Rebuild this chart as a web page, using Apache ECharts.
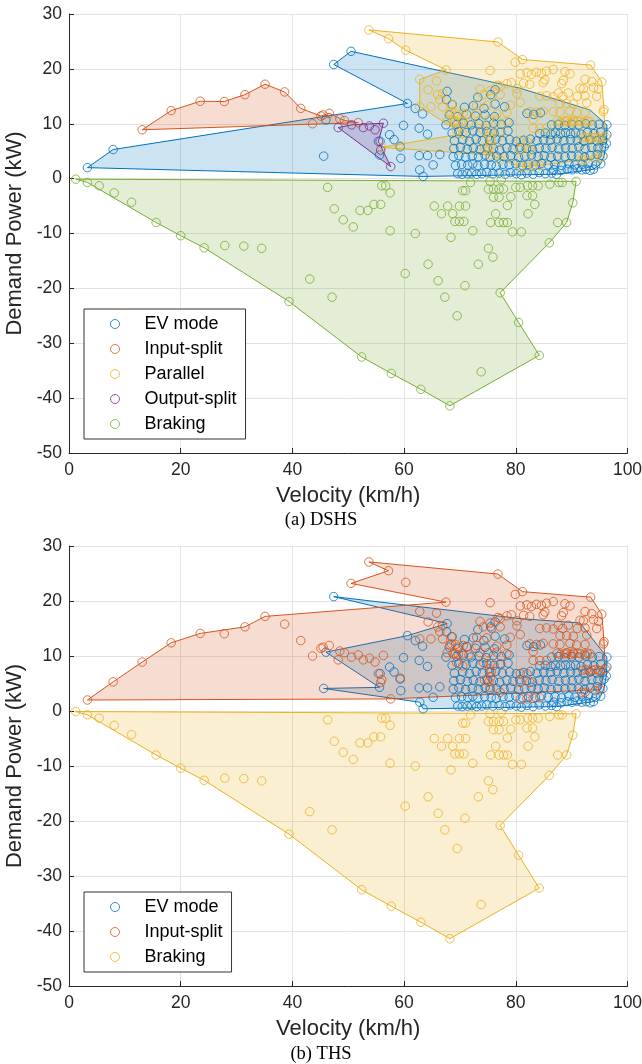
<!DOCTYPE html>
<html>
<head>
<meta charset="utf-8">
<script src="https://cdn.jsdelivr.net/npm/echarts@6/dist/echarts.min.js"></script>
<style>
  html, body { margin: 0; padding: 0; background: #fff; }
  #chart { width: 642px; height: 1064px; }
</style>
</head>
<body>
<div id="chart"></div>
<script>
// ---------- operating points: [velocity km/h, demand power kW] ----------

// EV-mode points common to both powertrains
const evCommon = [
  [45.6,4.1],[46.0,10.7],[47.4,20.8],[55.6,4.3],[55.7,6.8],[57.4,8.0],[58.2,7.1],[59.3,5.8],[59.4,3.7],[59.9,9.7],
  [60.6,13.7],[62.0,12.8],[63.3,11.8],[62.7,9.2],[62.7,4.2],[62.8,1.6],[63.4,0.4],[64.2,8.1],[64.2,4.2],[65.2,2.5],
  [66.4,4.4],[67.5,9.8],[67.6,14.4],[67.7,15.9],
  [69.6,0.9],[70.4,0.8],[71.3,0.9],[72.1,1.0],[73.0,0.8],[73.9,0.9],[74.8,1.1],[75.9,0.9],[77.0,1.0],[78.1,0.8],
  [79.0,1.1],[80.1,0.9],[81.0,0.7],[82.0,1.0],[83.1,0.8],[84.2,1.1],[85.3,0.9],[86.4,1.0],[87.3,0.8],[86.8,1.6],
  [88.1,1.5],[89.2,1.7],[90.1,1.6],[91.0,1.8],[91.8,1.6],[92.6,1.7],[93.3,1.5],[93.9,1.7],
  [69.2,2.4],[70.3,2.6],[71.4,2.5],[72.3,2.7],[73.2,2.4],[74.4,2.6],[75.6,2.5],[76.5,2.3],[77.7,2.6],[78.8,2.5],
  [80.0,2.7],[81.2,2.4],[82.3,2.6],[83.5,2.5],[84.6,2.8],[85.8,2.5],[87.0,2.6],[88.2,2.4],[89.5,2.7],[90.6,2.5],
  [91.9,2.6],[93.0,2.8],[94.3,2.5],[95.2,2.7],
  [68.8,4.0],[69.8,4.2],[71.0,3.9],[72.2,4.1],[73.3,4.0],[74.5,4.3],[75.4,3.9],[76.6,4.1],[77.9,4.0],[79.1,4.2],
  [80.5,3.9],[81.6,4.1],[82.8,4.3],[84.0,4.0],[85.1,4.2],[86.3,3.9],[87.5,4.1],[88.8,4.0],[90.0,4.2],[91.2,4.1],
  [92.3,3.9],[93.4,4.2],[94.6,4.4],[95.6,4.1],
  [68.9,5.5],[70.1,5.7],[71.3,5.4],[72.4,5.6],[73.6,5.3],[74.9,5.6],[76.0,5.5],[77.1,5.2],[78.4,5.6],[79.5,5.4],
  [80.7,5.7],[81.9,5.5],[83.0,5.3],[84.2,5.6],[85.4,5.5],[86.5,5.7],[87.7,5.4],[88.9,5.6],[90.1,5.5],[91.3,5.8],
  [92.4,5.5],[93.6,5.7],[94.7,5.6],[95.8,5.8],
  [69.0,6.9],[70.5,7.1],[71.7,6.8],[72.9,7.2],[74.0,6.9],[75.3,7.0],[76.4,7.2],[77.6,6.9],[78.9,7.1],[80.1,6.8],
  [81.4,7.0],[82.6,7.2],[83.8,6.9],[85.0,7.1],[86.2,7.0],[87.4,7.2],[88.6,6.9],[89.8,7.1],[91.0,7.0],[92.2,6.8],
  [93.3,7.1],[94.5,6.9],[95.6,7.0],[96.2,6.4],
  [68.6,8.3],[69.8,8.6],[71.1,8.4],[72.3,8.7],[73.6,8.4],[74.8,8.6],[76.1,8.3],[77.3,8.5],[78.6,8.7],[84.3,8.2],
  [85.3,8.3],[86.3,8.1],[87.1,8.3],[88.0,8.2],[88.9,8.4],[89.8,8.2],[90.7,8.3],[91.7,8.1],[92.8,8.4],[94.0,8.2],
  [95.2,8.5],[96.3,8.0],
  [69.4,9.9],[70.6,10.1],[72.0,9.8],[73.4,10.0],[74.7,9.7],[76.0,10.1],[77.4,9.9],[78.8,10.2],[86.4,9.8],[87.6,9.9],
  [88.8,9.7],[90.0,9.9],[91.3,9.8],[92.5,10.0],[93.7,9.8],[94.9,9.9],[96.3,9.8],
  [68.1,11.6],[69.6,11.3],[71.2,11.7],[72.8,11.4],[74.5,11.6],[76.2,11.3],[82.0,11.9],[83.2,11.7],[84.4,12.0],
  [68.6,13.5],[70.8,13.0],[72.4,13.3],[74.3,12.8],[76.3,13.6],[78.0,13.1],
  [73.2,14.8],[75.5,15.3],[76.3,16.2]
];
// EV-mode points that only the DSHS runs in EV mode (input-split on the THS)
const dshsEvOnly = [[3.3,2.0],[7.9,5.3],[50.5,23.2]];

const inputSplit = [
  [13.1,8.9],[18.3,12.4],[23.5,14.1],[27.8,14.05],[31.5,15.3],[35.1,17.2],[38.6,15.8],[41.5,12.8],
  [43.6,10.0],[45.1,11.4],[46.6,11.9],[45.5,11.6],[48.5,10.9],[49.3,10.6],[51.8,10.2]
];

const parallel = [
  [53.7,27.1],[57.2,25.5],[60.3,23.4],[76.8,24.9],[81.2,21.7],[93.4,20.7],[95.4,17.6],[95.8,12.6],[96.0,7.7],
  [67.5,19.8],[75.4,19.7],[79.9,21.2],[80.8,19.1],[82.0,19.3],[82.8,19.0],[83.7,19.4],[84.6,19.2],[85.5,19.6],
  [86.7,19.9],[88.8,19.5],[89.7,19.1],
  [62.8,18.1],[65.8,17.8],[85.2,18.0],[88.5,17.9],[92.4,18.1],[93.6,17.7],[81.4,17.4],[82.5,17.2],[84.9,17.5],
  [88.2,17.3],[76.8,17.0],[78.4,17.3],[79.2,17.5],
  [64.3,16.2],[73.6,16.3],[75.4,16.0],[77.2,16.8],[91.5,16.5],[92.1,16.4],[93.9,16.6],[94.8,16.3],[80.2,16.4],
  [66.0,15.3],[66.9,15.5],[74.2,15.3],[75.7,15.0],[77.2,15.3],[80.2,15.5],[84.3,15.0],[85.5,15.1],[86.7,14.9],
  [87.6,15.6],[88.4,15.0],[89.4,15.6],[91.0,15.0],[92.4,15.1],[94.5,15.0],
  [62.8,13.1],[64.8,13.1],[66.4,14.4],[66.9,13.1],[68.5,13.5],[73.0,13.4],[74.8,13.3],[79.0,13.4],[80.8,13.9],
  [87.9,13.7],[89.1,13.7],[90.3,13.6],[92.7,13.8],
  [68.5,12.2],[69.7,11.6],[68.2,12.0],[69.2,12.1],[70.6,11.9],[71.3,11.7],[73.0,11.9],[76.6,11.8],[78.4,12.0],
  [82.5,12.2],[83.7,12.1],[84.9,12.3],[86.7,12.2],[87.9,12.1],[89.7,12.3],[90.9,12.0],[92.4,12.1],[95.7,12.2],
  [69.1,10.4],[67.7,10.6],[68.8,10.4],[69.7,10.3],[70.5,10.4],[71.6,10.2],[73.6,10.6],[75.1,10.6],[76.6,10.7],
  [78.4,10.4],[83.1,10.8],[89.1,10.6],[90.3,10.7],
  [87.4,10.5],[88.0,10.3],[88.7,10.4],[89.2,10.5],[89.9,10.3],[90.4,10.4],[91.1,10.5],[91.6,10.4],[92.3,10.3],
  [92.8,10.5],[93.3,10.4],
  [69.4,8.8],[74.2,8.8],[75.4,8.6],[77.2,8.6],[83.1,9.2],[84.3,9.2],[85.5,9.2],[70.5,8.2],
  [75.3,7.7],[75.6,7.1],[75.5,6.2],[92.0,7.4],[92.6,7.5],[93.1,7.3],[93.7,7.4],[94.2,7.5],[94.8,7.4],[95.1,7.3],
  [80.8,6.8],[82.0,6.8],
  [56.0,5.7],[59.3,6.0],[74.4,5.6],[75.2,5.3],[80.8,5.2],[82.5,5.2],
  [75.4,4.3],[77.2,3.4],[91.8,3.4],[92.4,3.4],[94.2,3.7],[95.1,3.9],
  [80.8,2.2],[82.0,2.2],[83.1,2.3],[84.3,2.4]
];

const outputSplit = [
  [48.2,9.3],[50.6,9.8],[52.7,9.3],[53.8,9.6],[54.8,8.9],[56.3,10.1],[55.4,6.8],[55.8,5.2],[57.6,2.2]
];

const braking = [
  [1.2,-0.1],[3.3,-0.7],[5.4,-1.3],[8.1,-2.6],[11.2,-4.3],[15.6,-8.0],[20.0,-10.4],[24.2,-12.6],[27.9,-12.2],
  [31.3,-12.3],[34.5,-12.7],[39.4,-22.4],[43.1,-18.3],[47.1,-21.6],[46.3,-1.6],[47.5,-5.5],[49.1,-7.5],
  [50.9,-8.8],[52.1,-5.8],[53.5,-5.8],[54.6,-4.7],[55.8,-4.7],[56.0,-1.3],[56.7,-1.3],[57.5,-2.6],[57.5,-9.5],
  [62.0,-10.0],[60.2,-17.3],[64.3,-15.6],[66.1,-18.6],[67.3,-21.6],[65.4,-5.0],[66.7,-6.4],[67.8,-5.0],
  [68.7,-6.4],[69.9,-5.0],[71.0,-5.0],[69.1,-7.8],[69.9,-7.8],[70.7,-7.8],[68.4,-10.7],[72.3,-9.5],[70.9,-19.5],
  [69.5,-25.0],[73.8,-35.2],[73.3,-15.6],[75.1,-12.7],[75.9,-14.3],[76.4,-6.4],[75.5,-8.0],[77.0,-8.0],
  [77.8,-8.0],[78.5,-8.0],[79.4,-9.7],[81.0,-9.7],[78.5,-4.9],[79.1,-3.3],[82.2,-6.4],[83.4,-4.7],[82.0,-3.1],
  [83.0,-3.1],[87.5,-8.0],[70.5,-2.2],[71.0,-2.2],[71.9,-0.7],[75.1,-1.9],[76.0,-1.9],[77.0,-1.9],[77.8,-1.9],
  [75.4,-0.5],[77.4,-0.2],[76.0,-3.4],[77.0,-3.4],[80.0,-1.6],[80.8,-1.6],[82.1,-1.3],[83.0,-1.3],[84.0,-1.3],
  [86.1,-1.0],[87.7,-0.7],[88.3,-0.7],[90.8,-0.5],[90.2,-4.4],[89.1,-8.0],[86.0,-11.7],[77.2,-20.8],
  [80.5,-26.2],[84.2,-32.2],[68.2,-41.4],[63.0,-38.4],[57.7,-35.5],[52.4,-32.5]
];

// ---------- boundary outlines of each operating region ----------
const dshsEvBoundary = [
  [3.3,2.0],[7.9,5.3],[60.6,13.7],[47.4,20.8],[50.5,23.2],[80.7,16.5],[93.3,12.5],[96.3,9.8],[96.3,8.0],
  [96.2,6.4],[95.8,4.1],[95.2,2.7],[93.9,1.7],[87.3,0.8],[81.0,0.7],[63.4,0.4]
];
const dshsInputBoundary = [
  [13.1,8.9],[18.3,12.4],[23.5,14.1],[27.8,14.05],[31.5,15.3],[35.1,17.2],[38.6,15.8],[41.5,12.8],
  [45.1,11.4],[46.6,11.9],[49.3,10.6],[51.8,10.2]
];
const dshsParallelBoundary = [
  [53.7,27.1],[76.8,24.9],[81.2,21.7],[93.4,20.7],[95.4,17.6],[95.8,12.6],[96.0,7.7],[95.1,3.9],[84.3,2.4],
  [80.8,2.2],[75.4,4.3],[56.0,5.7],[70.5,8.2],[62.8,13.1],[62.8,18.1],[67.5,19.8],[60.3,23.4],[57.2,25.5]
];
const dshsOutputBoundary = [[48.2,9.3],[50.6,9.8],[56.3,10.1],[55.4,6.8],[57.6,2.2]];
const brakingBoundary = [
  [1.2,-0.1],[3.3,-0.7],[15.6,-8.0],[20.0,-10.4],[24.2,-12.6],[39.4,-22.4],[52.4,-32.5],[57.7,-35.5],
  [63.0,-38.4],[68.2,-41.4],[84.2,-32.2],[80.5,-26.2],[77.2,-20.8],[86.0,-11.7],[89.1,-8.0],[90.2,-4.4],
  [90.8,-0.5]
];
const thsEvBoundary = [
  [45.6,4.1],[55.6,4.3],[46.0,10.7],[60.6,13.7],[67.7,15.9],[47.4,20.8],[80.8,16.8],[91.5,16.0],[96.3,9.8],
  [96.3,8.0],[96.2,6.4],[95.8,4.1],[95.2,2.7],[93.9,1.7],[87.3,0.8],[81.0,0.7],[63.4,0.4],[62.8,1.6]
];
const thsInputBoundary = [
  [3.3,2.0],[7.9,5.3],[13.1,8.9],[18.3,12.4],[23.5,14.1],[31.5,15.3],[35.1,17.2],[67.5,19.8],[50.5,23.2],
  [57.2,25.5],[53.7,27.1],[76.8,24.9],[81.2,21.7],[93.4,20.7],[95.4,17.6],[95.8,12.6],[96.0,7.7],[95.1,3.9],
  [57.6,2.2]
];

// THS merges the DSHS engine modes into a single input-split mode
const thsEv = evCommon;
const thsInput = inputSplit.concat(parallel, outputSplit, dshsEvOnly);
const dshsEv = evCommon.concat(dshsEvOnly);

// ---------- axis ticks and labels ----------
const xTicks = { min: 0, max: 100, interval: 20 };
const yTicks = { min: -50, max: 30, interval: 10 };
const xLabel = 'Velocity (km/h)';
const yLabel = 'Demand Power (kW)';
const captions = ['(a) DSHS', '(b) THS'];
const dshsModes = ['EV mode', 'Input-split', 'Parallel', 'Output-split', 'Braking'];
const thsModes = ['EV mode', 'Input-split', 'Braking'];

// ---------- styling ----------
const C = { blue: '#0072BD', orange: '#D95319', yellow: '#EDB120', purple: '#7E2F8E', green: '#77AC30' };
const SANS = '"Liberation Sans", Arial, Helvetica, sans-serif';
const SERIF = '"Liberation Serif", "Times New Roman", serif';
const INK = '#262626';

function hexA(hex, a) {
  const n = parseInt(hex.slice(1), 16);
  return `rgba(${(n >> 16) & 255},${(n >> 8) & 255},${n & 255},${a})`;
}

function region(name, verts, color, gi) {
  return {
    type: 'custom', name: name + ' region', xAxisIndex: gi, yAxisIndex: gi,
    coordinateSystem: 'cartesian2d', silent: true,
    dimensions: ['v', 'p'], encode: { x: 0, y: 1 },
    data: verts,
    renderItem: function (params, api) {
      if (params.dataIndex !== 0) return null;
      const pts = verts.map(function (v) { return api.coord(v); });
      return {
        type: 'polygon',
        shape: { points: pts },
        style: { fill: hexA(color, 0.2), stroke: color, lineWidth: 1 }
      };
    }
  };
}

function points(name, data, color, gi) {
  return {
    type: 'scatter', name: name, xAxisIndex: gi, yAxisIndex: gi,
    data: data, symbol: 'circle', symbolSize: 8.5, silent: true,
    itemStyle: { color: 'rgba(0,0,0,0)', borderColor: color, borderWidth: 1 }
  };
}

function xAxis(gi) {
  return {
    type: 'value', gridIndex: gi, min: xTicks.min, max: xTicks.max, interval: xTicks.interval,
    name: xLabel, nameLocation: 'middle', nameGap: 32,
    nameTextStyle: { fontFamily: SANS, fontSize: 22, color: INK },
    axisLine: { onZero: false, lineStyle: { color: INK, width: 1 } },
    axisTick: { inside: true, length: 5, lineStyle: { color: INK } },
    axisLabel: { fontFamily: SANS, fontSize: 17.5, color: INK, margin: 8 },
    splitLine: { show: true, lineStyle: { color: '#e3e3e3', width: 1 } }
  };
}
function yAxis(gi) {
  return {
    type: 'value', gridIndex: gi, min: yTicks.min, max: yTicks.max, interval: yTicks.interval,
    name: yLabel, nameLocation: 'middle', nameGap: 36, nameRotate: 90,
    nameTextStyle: { fontFamily: SANS, fontSize: 22, color: INK },
    axisLine: { onZero: false, lineStyle: { color: INK, width: 1 } },
    axisTick: { inside: true, length: 5, lineStyle: { color: INK } },
    axisLabel: { fontFamily: SANS, fontSize: 17.5, color: INK, margin: 7 },
    splitLine: { show: true, lineStyle: { color: '#e3e3e3', width: 1 } }
  };
}

function legendBox(names, colors, top) {
  return {
    orient: 'vertical', left: 84, top: top,
    padding: [6, 9, 6, 26], itemGap: 7, itemWidth: 29, itemHeight: 9,
    backgroundColor: '#fff', borderColor: '#333', borderWidth: 1, borderRadius: 0,
    selectedMode: false,
    textStyle: { fontFamily: SANS, fontSize: 18, color: '#000', padding: [0, 0, 0, 10] },
    data: names.map(function (n, i) {
      return { name: n, icon: 'circle',
        itemStyle: { color: 'rgba(0,0,0,0)', borderColor: colors[i], borderWidth: 1 } };
    })
  };
}

const chart = echarts.init(document.getElementById('chart'), null, { renderer: 'canvas' });
chart.setOption({
  animation: false,
  backgroundColor: '#fff',
  title: [
    { text: captions[0], left: 'center', top: 511, padding: 0,
      textStyle: { fontFamily: SERIF, fontSize: 18.5, fontWeight: 'normal', color: '#000' } },
    { text: captions[1], left: 'center', top: 1045, padding: 0,
      textStyle: { fontFamily: SERIF, fontSize: 18.5, fontWeight: 'normal', color: '#000' } }
  ],
  grid: [
    { left: 69, right: 14.5, top: 14, height: 439, containLabel: false, outerBoundsMode: 'none' },
    { left: 69, right: 14.5, top: 546, height: 440, containLabel: false, outerBoundsMode: 'none' }
  ],
  xAxis: [xAxis(0), xAxis(1)],
  yAxis: [yAxis(0), yAxis(1)],
  legend: [
    legendBox(dshsModes, [C.blue, C.orange, C.yellow, C.purple, C.green], 309),
    legendBox(thsModes, [C.blue, C.orange, C.yellow], 892)
  ],
  series: [
    region(dshsModes[0], dshsEvBoundary, C.blue, 0),
    points(dshsModes[0], dshsEv, C.blue, 0),
    region(dshsModes[1], dshsInputBoundary, C.orange, 0),
    points(dshsModes[1], inputSplit, C.orange, 0),
    region(dshsModes[2], dshsParallelBoundary, C.yellow, 0),
    points(dshsModes[2], parallel, C.yellow, 0),
    region(dshsModes[3], dshsOutputBoundary, C.purple, 0),
    points(dshsModes[3], outputSplit, C.purple, 0),
    region(dshsModes[4], brakingBoundary, C.green, 0),
    points(dshsModes[4], braking, C.green, 0),

    region(thsModes[0] + ' THS', thsEvBoundary, C.blue, 1),
    points(thsModes[0], thsEv, C.blue, 1),
    region(thsModes[1] + ' THS', thsInputBoundary, C.orange, 1),
    points(thsModes[1], thsInput, C.orange, 1),
    region(thsModes[2] + ' THS', brakingBoundary, C.yellow, 1),
    points(thsModes[2], braking, C.yellow, 1)
  ]
});
</script>
</body>
</html>
